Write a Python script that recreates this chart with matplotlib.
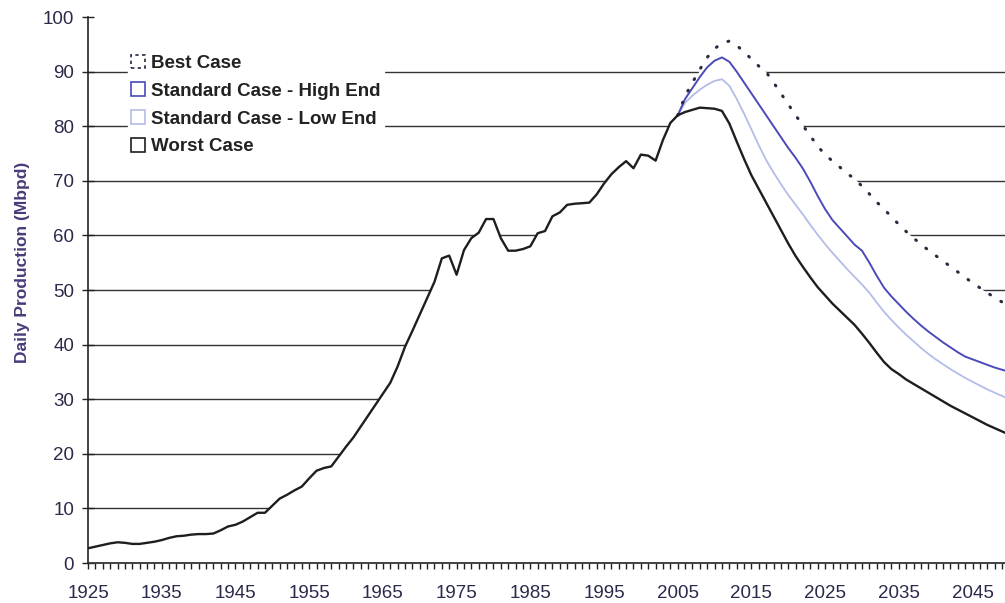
import matplotlib
matplotlib.use("Agg")
import matplotlib.pyplot as plt
from matplotlib.patches import Patch
from matplotlib.ticker import MultipleLocator, FixedLocator

plt.rcParams['font.family'] = ['Liberation Sans', 'DejaVu Sans']

# historical daily production, 1925-2005 (Mbpd)
hist_years = list(range(1925, 2006))
hist_prod = [2.7, 3.0, 3.3, 3.6, 3.8, 3.7, 3.5, 3.5, 3.7, 3.9,
             4.2, 4.6, 4.9, 5.0, 5.2, 5.3, 5.3, 5.4, 6.0, 6.7,
             7.0, 7.6, 8.4, 9.2, 9.2, 10.5, 11.8, 12.5, 13.3, 14.0,
             15.5, 16.9, 17.4, 17.7, 19.5, 21.3, 23.0, 25.0, 27.0, 29.0,
             31.0, 33.0, 36.0, 39.6, 42.5, 45.5, 48.5, 51.5, 55.8, 56.3,
             52.8, 57.3, 59.5, 60.5, 63.0, 63.0, 59.5, 57.2, 57.2, 57.5,
             58.0, 60.4, 60.8, 63.5, 64.2, 65.6, 65.8, 65.9, 66.0, 67.5,
             69.5, 71.2, 72.5, 73.6, 72.3, 74.8, 74.6, 73.7, 77.5, 80.6,
             82.0]

# projections, 2005-2050
proj_years = list(range(2005, 2051))
best_case = [82.0, 85.5, 88.0, 90.4, 92.6, 94.2, 95.2, 95.6, 94.8, 93.6,
             92.3, 91.0, 89.9, 88.0, 86.0, 84.0, 82.0, 80.1, 78.2, 76.3,
             74.8, 73.6, 72.5, 71.3, 70.4, 69.0, 67.6, 66.1, 64.8, 63.4,
             62.0, 60.7, 59.5, 58.4, 57.3, 56.3, 55.3, 54.3, 53.3, 52.3,
             51.3, 50.4, 49.5, 48.6, 47.8, 47.0]
high_end = [82.0, 85.0, 87.0, 89.0, 90.8, 92.0, 92.6, 91.8, 90.0, 88.0,
            86.0, 84.0, 82.0, 80.0, 78.0, 76.0, 74.2, 72.2, 69.8, 67.2,
            64.8, 62.8, 61.3, 59.8, 58.3, 57.2, 55.0, 52.6, 50.4, 48.8,
            47.4, 46.0, 44.7, 43.5, 42.4, 41.4, 40.4, 39.5, 38.6, 37.8,
            37.3, 36.8, 36.3, 35.8, 35.4, 35.0]
low_end = [82.0, 84.3, 85.6, 86.7, 87.6, 88.3, 88.6, 87.4, 85.0, 82.3,
           79.4, 76.5, 73.8, 71.5, 69.4, 67.4, 65.6, 63.8, 61.9, 60.1,
           58.4, 56.8, 55.3, 53.8, 52.4, 51.0, 49.5, 47.7, 46.0, 44.5,
           43.1, 41.8, 40.6, 39.4, 38.3, 37.3, 36.4, 35.5, 34.7, 33.9,
           33.2, 32.5, 31.8, 31.2, 30.6, 30.0]
worst_case = [82.0, 82.6, 83.0, 83.4, 83.3, 83.2, 82.8, 80.5, 77.2, 74.0,
              71.0, 68.5, 66.0, 63.5, 61.0, 58.5, 56.2, 54.2, 52.3, 50.5,
              49.0, 47.5, 46.2, 44.9, 43.6, 42.0, 40.3, 38.5, 36.8, 35.5,
              34.6, 33.6, 32.8, 32.0, 31.2, 30.4, 29.6, 28.8, 28.1, 27.4,
              26.7, 26.0, 25.3, 24.7, 24.1, 23.5]

c_worst = '#1e1e1e'
c_high = '#4a4ab8'
c_low = '#b4bce8'
c_best = '#2a2a40'
c_text = '#2a2a4a'

fig = plt.figure(figsize=(10.05, 6.03), dpi=100)
ax = fig.add_axes([0.0876, 0.0663, 0.9124, 0.9055])

for y in range(10, 100, 10):
    ax.axhline(y, color='#333333', lw=1.0, zorder=1)

# white area under the envelope hides the grid lines
env_x = hist_years + proj_years[1:]
env_y = hist_prod + best_case[1:]
ax.fill_between(env_x, 0, env_y, color='white', zorder=2, lw=0)

ax.plot(proj_years, low_end, color=c_low, lw=1.3, zorder=3)
ax.plot(proj_years, high_end, color=c_high, lw=1.4, zorder=4)
ax.plot(proj_years, best_case, color=c_best, lw=2.2,
        linestyle=(0, (0.3, 4.0)), dash_capstyle='round', zorder=4)
ax.plot(hist_years + proj_years[1:], hist_prod + worst_case[1:],
        color=c_worst, lw=1.7, zorder=5)

ax.set_xlim(1925, 2049.4)
ax.set_ylim(0, 100)

ax.xaxis.set_major_locator(FixedLocator(list(range(1925, 2050, 10))))
ax.xaxis.set_minor_locator(MultipleLocator(1))
ax.yaxis.set_major_locator(MultipleLocator(10))

ax.tick_params(axis='x', which='both', direction='out', length=4,
               width=1, color='#222222', labelsize=13.5,
               labelcolor=c_text, pad=12)
ax.tick_params(axis='y', direction='inout', length=8, width=1,
               color='#222222', labelsize=13.5, labelcolor=c_text, pad=6)

for s in ['top', 'right']:
    ax.spines[s].set_visible(False)
for s in ['left', 'bottom']:
    ax.spines[s].set_color('#222222')
    ax.spines[s].set_linewidth(1.2)

ax.set_ylabel('Daily Production (Mbpd)', fontsize=12.5, fontweight='bold',
              color='#4a3a7a')
ax.yaxis.set_label_coords(-0.063, 0.55)

handles = [
    Patch(facecolor='white', edgecolor=c_best, linestyle=(0, (2, 2)), lw=1.2),
    Patch(facecolor='white', edgecolor=c_high, lw=1.2),
    Patch(facecolor='white', edgecolor=c_low, lw=1.2),
    Patch(facecolor='white', edgecolor=c_worst, lw=1.2),
]
labels = ['Best Case', 'Standard Case - High End',
          'Standard Case - Low End', 'Worst Case']
leg = ax.legend(handles, labels, loc='upper left',
                bbox_to_anchor=(0.033, 0.955), frameon=True,
                facecolor='white', edgecolor='white', framealpha=1,
                fancybox=False, handlelength=0.75, handleheight=0.75,
                handletextpad=0.3, labelspacing=0.55, borderpad=0.2,
                prop={'size': 13.5, 'weight': 'bold'})
for t in leg.get_texts():
    t.set_color('#222222')
leg.set_zorder(6)

fig.savefig('out.png', dpi=100)
